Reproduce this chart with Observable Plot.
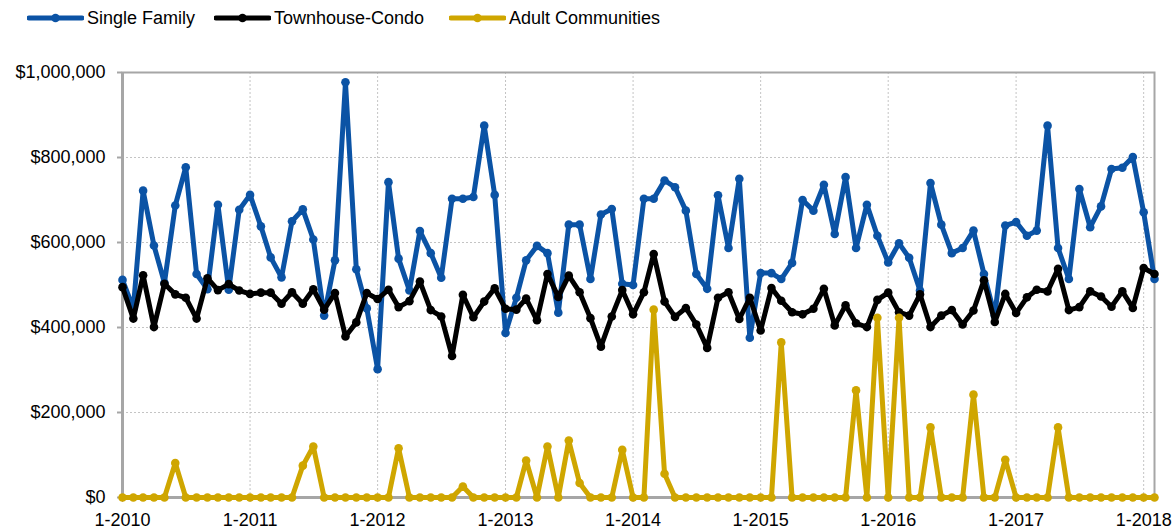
<!DOCTYPE html>
<html>
<head>
<meta charset="utf-8">
<script src="https://cdn.jsdelivr.net/npm/d3@7"></script>
<script src="https://cdn.jsdelivr.net/npm/@observablehq/plot@0.6"></script>
<style>
  html, body { margin: 0; padding: 0; background: #fff; }
  body { font-family: "Liberation Sans", Arial, Helvetica, sans-serif; width: 1174px; height: 532px; overflow: hidden; }
  #legend { position: relative; width: 1174px; height: 36px; }
  #legend .item { position: absolute; top: 0; height: 36px; display: flex; align-items: center; font-size: 18px; color: #000; }
  #legend svg { display: block; margin-right: 3px; }
</style>
</head>
<body>
<div id="legend"></div>
<div id="chart"></div>
<script>
// ---- Data (monthly, 1-2010 through 2-2018) ----
const startYear = 2010;
const seriesNames = ["Single Family", "Townhouse-Condo", "Adult Communities"];
const seriesColors = ["#0b53a5", "#000000", "#cfa600"];

const singleFamily = [
  512000, 445000, 722000, 593000, 505000, 687000, 777000, 526000, 490000, 689000, 489000, 677000,
  712000, 638000, 565000, 518000, 650000, 678000, 607000, 428000, 558000, 977000, 537000, 445000,
  302000, 742000, 562000, 487000, 627000, 575000, 517000, 703000, 703000, 707000, 875000, 712000,
  387000, 470000, 558000, 592000, 575000, 435000, 642000, 642000, 514000, 666000, 679000, 503000,
  500000, 703000, 703000, 746000, 730000, 675000, 526000, 491000, 711000, 587000, 750000, 376000,
  528000, 528000, 514000, 552000, 700000, 675000, 736000, 620000, 754000, 587000, 689000, 616000,
  553000, 598000, 564000, 487000, 740000, 642000, 575000, 587000, 628000, 526000, 428000, 640000,
  648000, 616000, 628000, 875000, 587000, 514000, 726000, 636000, 685000, 773000, 776000, 801000,
  671000, 514000
];

const townhouseCondo = [
  495000, 421000, 523000, 401000, 503000, 478000, 470000, 421000, 516000, 488000, 502000, 487000,
  479000, 482000, 482000, 456000, 483000, 456000, 490000, 442000, 481000, 379000, 412000, 481000,
  467000, 489000, 448000, 462000, 508000, 441000, 426000, 333000, 477000, 424000, 461000, 492000,
  444000, 442000, 468000, 417000, 526000, 472000, 522000, 483000, 422000, 355000, 426000, 488000,
  431000, 483000, 573000, 461000, 425000, 446000, 407000, 352000, 470000, 483000, 420000, 470000,
  393000, 493000, 463000, 436000, 431000, 444000, 491000, 405000, 452000, 410000, 401000, 465000,
  482000, 436000, 428000, 478000, 401000, 428000, 441000, 407000, 440000, 511000, 413000, 479000,
  434000, 471000, 489000, 485000, 538000, 441000, 448000, 485000, 473000, 449000, 485000, 446000,
  540000, 526000
];

const adultCommunities = [
  0, 0, 0, 0, 0, 81000, 0, 0, 0, 0, 0, 0,
  0, 0, 0, 0, 0, 75000, 120000, 0, 0, 0, 0, 0,
  0, 0, 116000, 0, 0, 0, 0, 0, 26000, 0, 0, 0,
  0, 0, 87000, 0, 120000, 0, 134000, 34000, 0, 0, 0, 112000,
  0, 0, 442000, 56000, 0, 0, 0, 0, 0, 0, 0, 0,
  0, 0, 365000, 0, 0, 0, 0, 0, 0, 252000, 0, 423000,
  0, 423000, 0, 0, 165000, 0, 0, 0, 242000, 0, 0, 89000,
  0, 0, 0, 0, 165000, 0, 0, 0, 0, 0, 0, 0,
  0, 0
];

const yTicks = [0, 200000, 400000, 600000, 800000, 1000000];
const xTickYears = [2010, 2011, 2012, 2013, 2014, 2015, 2016, 2017, 2018];

// ---- Build table ----
const seriesValues = [singleFamily, townhouseCondo, adultCommunities];
const months = singleFamily.map((_, i) => new Date(Date.UTC(startYear, i, 1)));
const tables = seriesNames.map((name, s) =>
  seriesValues[s].map((v, i) => ({series: name, date: months[i], value: v}))
);
const xTicks = xTickYears.map(y => new Date(Date.UTC(y, 0, 1)));

const font = '"Liberation Sans", Arial, Helvetica, sans-serif';
const axisGray = "#a6a6a6";
const gridGray = "#c4c4c4";

const marks = [
  Plot.gridY(yTicks, {stroke: gridGray, strokeOpacity: 1, strokeDasharray: "2,2", strokeWidth: 1}),
  Plot.gridX(xTicks, {stroke: gridGray, strokeOpacity: 1, strokeDasharray: "2,2", strokeWidth: 1}),
  Plot.frame({stroke: axisGray, strokeWidth: 2}),
  Plot.ruleX([months[0]], {stroke: axisGray, strokeWidth: 3}),
  Plot.ruleY([0], {stroke: axisGray, strokeWidth: 3}),
  Plot.axisY(yTicks, {
    tickFormat: d => "$" + d3.format(",")(d),
    tickSize: 5, tickPadding: 12, stroke: axisGray, strokeWidth: 2, label: null, fontSize: 18, fill: "#000"
  }),
  Plot.axisX(xTicks, {
    tickFormat: d => "1-" + d.getUTCFullYear(),
    tickSize: 5, tickPadding: 11, stroke: axisGray, strokeWidth: 1, label: null, fontSize: 18, fill: "#000"
  })
];

tables.forEach((t, s) => {
  marks.push(Plot.line(t, {x: "date", y: "value", stroke: seriesColors[s], strokeWidth: 5, strokeLinejoin: "round", strokeLinecap: "round"}));
  marks.push(Plot.dot(t, {x: "date", y: "value", fill: seriesColors[s], r: 4.3, stroke: "none"}));
});

const chart = Plot.plot({
  width: 1174,
  height: 496,
  marginTop: 36,
  marginBottom: 35,
  marginLeft: 122,
  marginRight: 20,
  style: {fontFamily: font, fontSize: "18px", color: "#000", background: "#fff", overflow: "visible"},
  x: {type: "utc", domain: [months[0], months[months.length - 1]]},
  y: {domain: [0, 1000000]},
  marks
});
document.getElementById("chart").appendChild(chart);

// ---- Legend (above the plot) ----
const legend = document.getElementById("legend");
const legendLeft = [27, 214, 449];
seriesNames.forEach((name, s) => {
  const item = document.createElement("div");
  item.className = "item";
  item.style.left = legendLeft[s] + "px";
  item.innerHTML =
    `<svg width="57" height="12" viewBox="0 0 57 12">
       <line x1="2" y1="6" x2="55" y2="6" stroke="${seriesColors[s]}" stroke-width="5" stroke-linecap="round"/>
       <circle cx="28.5" cy="6" r="4.3" fill="${seriesColors[s]}"/>
     </svg><span>${name}</span>`;
  legend.appendChild(item);
});
</script>
</body>
</html>
